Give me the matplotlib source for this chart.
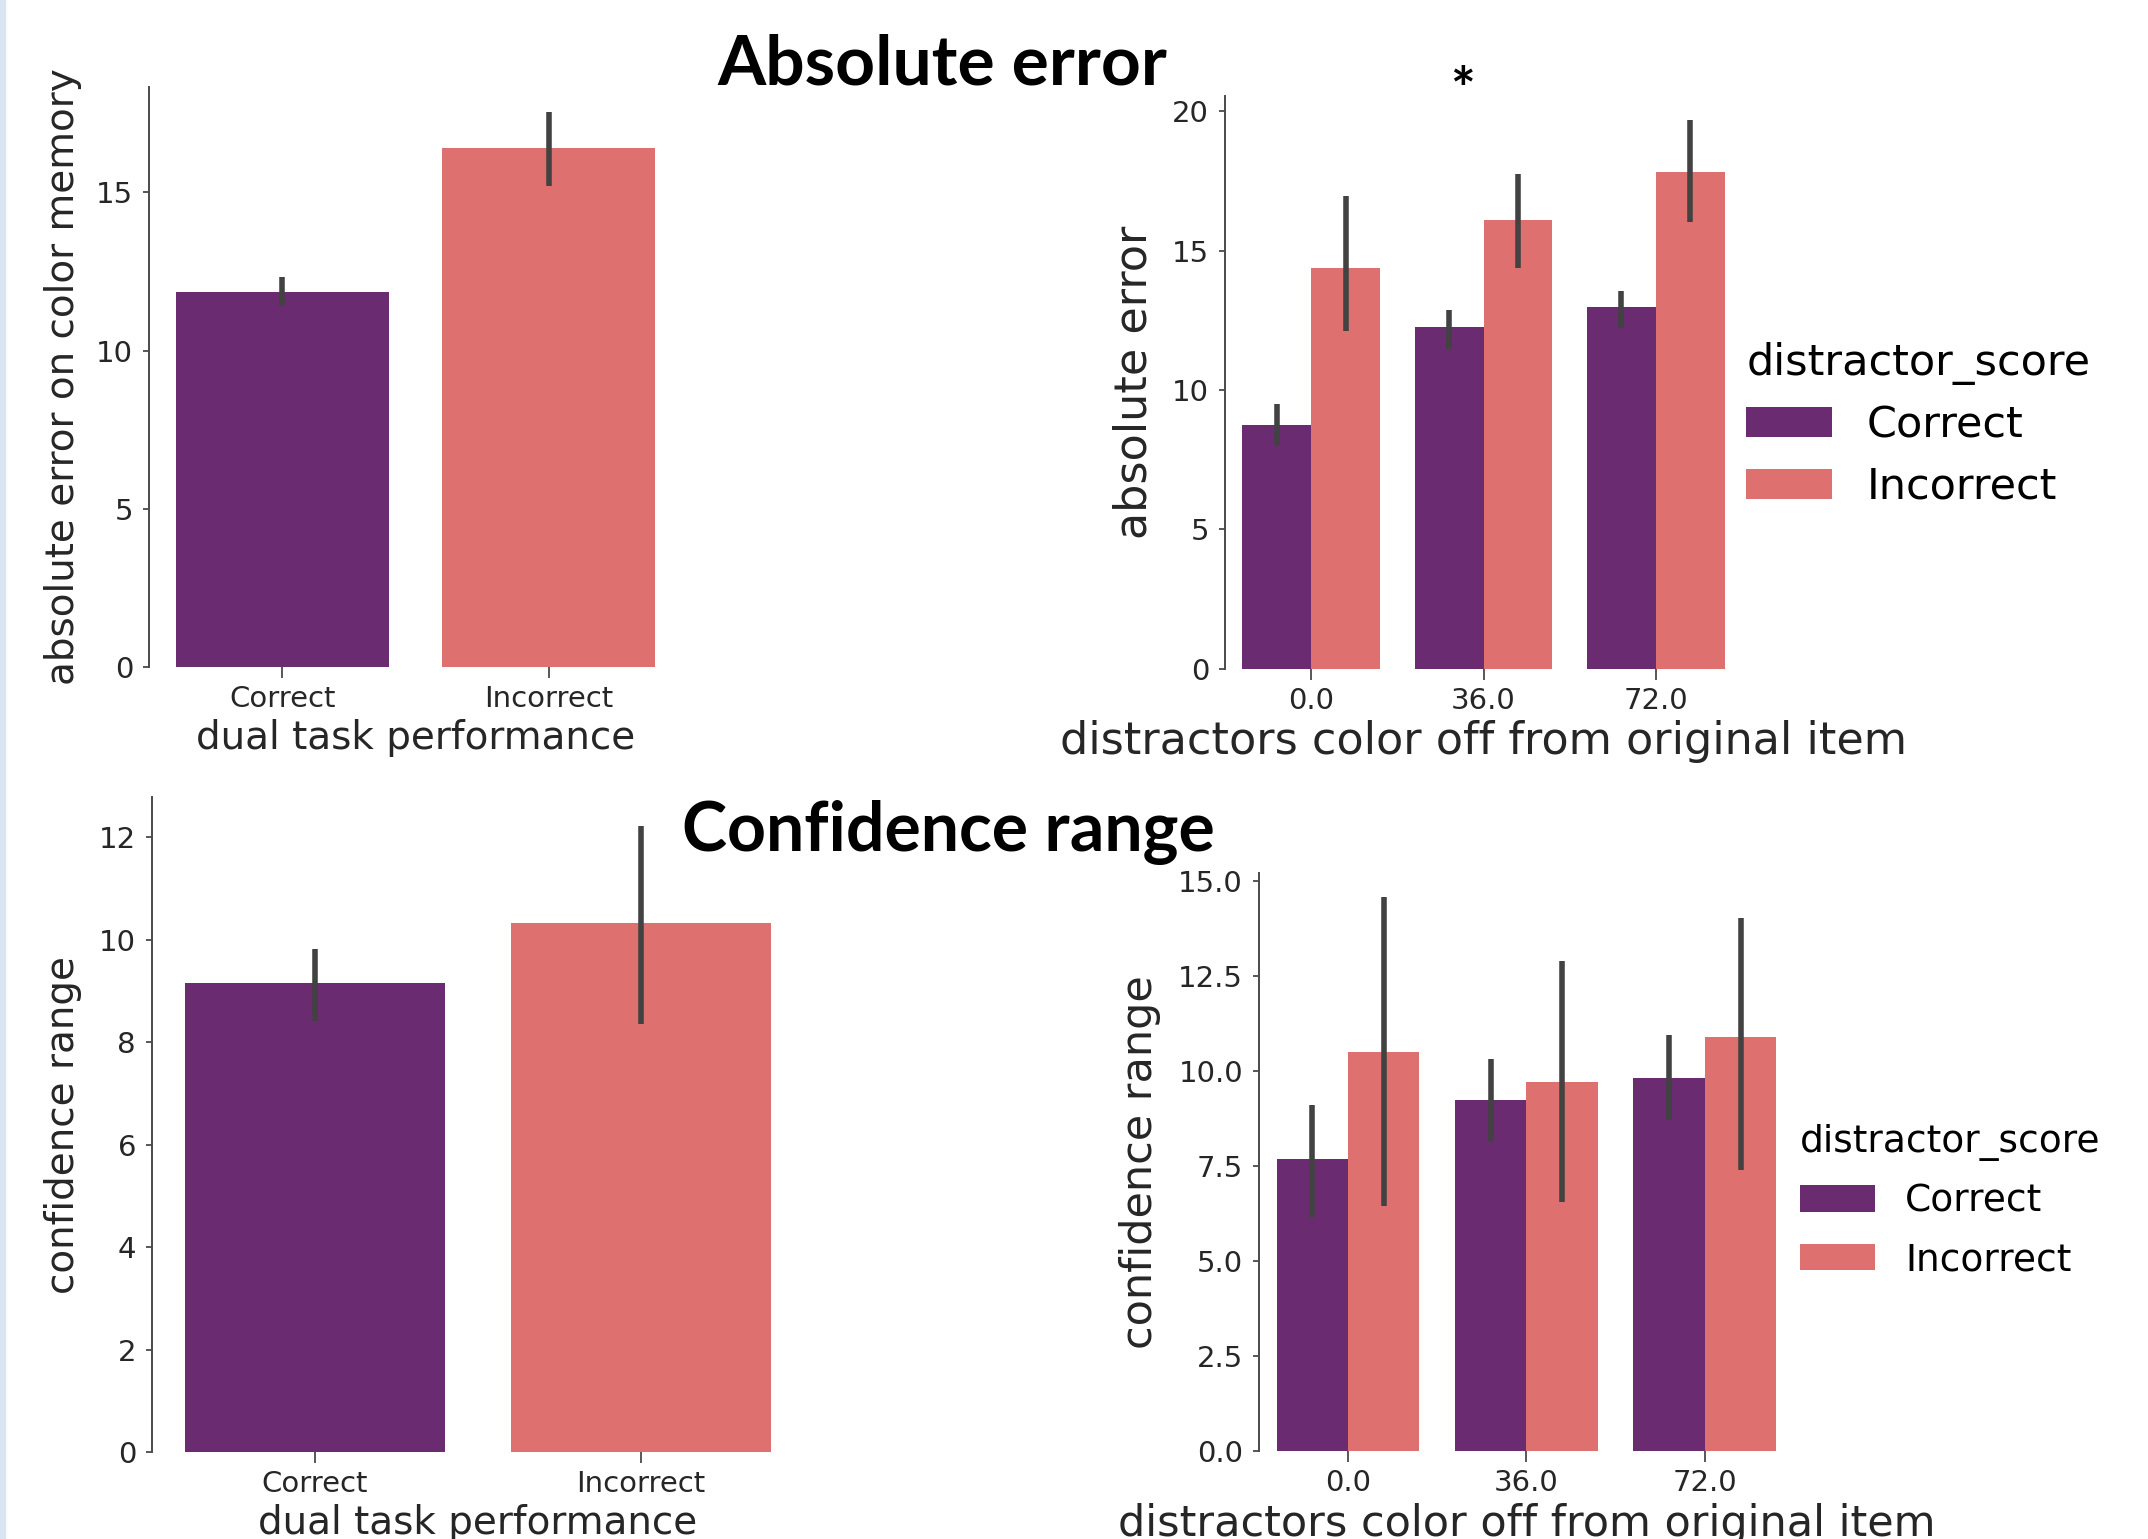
import numpy as np
import matplotlib
matplotlib.use("Agg")
import matplotlib.pyplot as plt
from matplotlib.patches import Rectangle

# ---- data ----
dual_cats = ["Correct", "Incorrect"]
offset_cats = ["0.0", "36.0", "72.0"]
hue_names = ["Correct", "Incorrect"]

# absolute error vs dual task performance
abs_err_mean = [11.85, 16.41]
abs_err_lo = [11.40, 15.19]
abs_err_hi = [12.32, 17.53]

# absolute error vs distractor offset, split by distractor_score
abs_err_correct = [8.74, 12.26, 12.96]
abs_err_correct_lo = [7.99, 11.47, 12.23]
abs_err_correct_hi = [9.50, 12.88, 13.56]
abs_err_incorrect = [14.37, 16.09, 17.82]
abs_err_incorrect_lo = [12.12, 14.37, 16.02]
abs_err_incorrect_hi = [16.96, 17.75, 19.70]

# confidence range vs dual task performance
conf_mean = [9.16, 10.33]
conf_lo = [8.41, 8.36]
conf_hi = [9.82, 12.22]

# confidence range vs distractor offset
conf_correct = [7.67, 9.24, 9.81]
conf_correct_lo = [6.16, 8.12, 8.69]
conf_correct_hi = [9.11, 10.31, 10.93]
conf_incorrect = [10.48, 9.69, 10.88]
conf_incorrect_lo = [6.44, 6.55, 7.40]
conf_incorrect_hi = [14.56, 12.89, 14.01]

purple = "#6a2b71"
coral = "#de716f"
err_c = "#424242"
txt_c = "#262626"

plt.rcParams["font.family"] = "DejaVu Sans"

fig = plt.figure(figsize=(21.48, 15.39), dpi=100)
fig.patch.set_facecolor("white")


def style_axes(ax, ylim, yticks, yfmt, xlabel, ylabel, lab_size, xlabelpad, ylabelpad):
    ax.set_ylim(*ylim)
    ax.set_yticks(yticks)
    ax.set_yticklabels([yfmt.format(t) for t in yticks])
    for s in ["top", "right", "bottom"]:
        ax.spines[s].set_visible(False)
    ax.spines["left"].set_color("#4a4a4a")
    ax.spines["left"].set_linewidth(1.4)
    ax.tick_params(axis="y", length=4.5, width=1.3, color="#4a4a4a", pad=7,
                   labelsize=21, labelcolor=txt_c)
    ax.tick_params(axis="x", length=8, width=1.3, color="#4a4a4a", pad=5,
                   labelsize=21, labelcolor=txt_c)
    ax.set_xlabel(xlabel, fontsize=lab_size, color=txt_c, labelpad=xlabelpad)
    ax.set_ylabel(ylabel, fontsize=lab_size, color=txt_c, labelpad=ylabelpad)
    ax.set_facecolor("none")


def simple_bars(ax, means, lo, hi):
    x = np.arange(len(dual_cats))
    ax.bar(x, means, width=0.8, color=[purple, coral], linewidth=0)
    ax.vlines(x, lo, hi, color=err_c, lw=4)
    ax.set_xticks(x)
    ax.set_xticklabels(dual_cats)
    ax.set_xlim(-0.5, len(dual_cats) - 0.5)


def hue_bars(ax, vals_c, lo_c, hi_c, vals_i, lo_i, hi_i):
    x = np.arange(len(offset_cats))
    ax.bar(x - 0.2, vals_c, width=0.4, color=purple, linewidth=0, label=hue_names[0])
    ax.bar(x + 0.2, vals_i, width=0.4, color=coral, linewidth=0, label=hue_names[1])
    ax.vlines(x - 0.2, lo_c, hi_c, color=err_c, lw=4)
    ax.vlines(x + 0.2, lo_i, hi_i, color=err_c, lw=4)
    ax.set_xticks(x)
    ax.set_xticklabels(offset_cats)
    ax.set_xlim(-0.5, len(offset_cats) - 0.5)


# top left
ax1 = fig.add_axes([0.0694, 0.5666, 0.2481, 0.3769])
simple_bars(ax1, abs_err_mean, abs_err_lo, abs_err_hi)
style_axes(ax1, (0, 18.33), [0, 5, 10, 15], "{:g}", "dual task performance",
           "absolute error on color memory", 28, 4, 10)

# top right
ax2 = fig.add_axes([0.5703, 0.5656, 0.2407, 0.3717])
hue_bars(ax2, abs_err_correct, abs_err_correct_lo, abs_err_correct_hi,
         abs_err_incorrect, abs_err_incorrect_lo, abs_err_incorrect_hi)
style_axes(ax2, (0, 20.53), [0, 5, 10, 15, 20], "{:g}",
           "distractors color off from original item", "absolute error", 32, 4, 12)
leg2 = ax2.legend(title="distractor_score", loc="center left", frameon=False,
                  bbox_to_anchor=(0.805, 0.724), bbox_transform=fig.transFigure,
                  fontsize=31, title_fontsize=31, handlelength=2.0,
                  labelspacing=0.45, borderaxespad=0)
leg2._legend_box.align = "left"

# bottom left
ax3 = fig.add_axes([0.0708, 0.0565, 0.3035, 0.4256])
simple_bars(ax3, conf_mean, conf_lo, conf_hi)
style_axes(ax3, (0, 12.78), [0, 2, 4, 6, 8, 10, 12], "{:g}", "dual task performance",
           "confidence range", 28, 4, 12)

# bottom right
ax4 = fig.add_axes([0.5861, 0.0572, 0.2491, 0.3756])
hue_bars(ax4, conf_correct, conf_correct_lo, conf_correct_hi,
         conf_incorrect, conf_incorrect_lo, conf_incorrect_hi)
style_axes(ax4, (0, 15.2), [0, 2.5, 5, 7.5, 10, 12.5, 15], "{:.1f}",
           "distractors color off from original item", "confidence range", 31, 4, 12)
leg4 = ax4.legend(title="distractor_score", loc="center left", frameon=False,
                  bbox_to_anchor=(0.831, 0.2196), bbox_transform=fig.transFigure,
                  fontsize=27, title_fontsize=27, handlelength=2.0,
                  labelspacing=0.6, borderaxespad=0)
leg4._legend_box.align = "left"

# slide headings
fig.text(0.4387, 0.9454, "Absolute error", ha="center", va="baseline",
         fontsize=50, fontweight="bold", family=["Lato", "DejaVu Sans"], color="black")
fig.text(0.4414, 0.447, "Confidence range", ha="center", va="baseline",
         fontsize=49, fontweight="bold", family=["Lato", "DejaVu Sans"], color="black")
fig.text(0.681, 0.94, "*", ha="center", va="center",
         fontsize=42, fontweight="bold", family=["Lato", "DejaVu Sans"], color="black")

# thin slide border on the left
fig.patches.append(Rectangle((0, 0), 0.0022, 1, transform=fig.transFigure,
                             color="#dae5f1", zorder=0))

fig.savefig("out.png", dpi=100)
